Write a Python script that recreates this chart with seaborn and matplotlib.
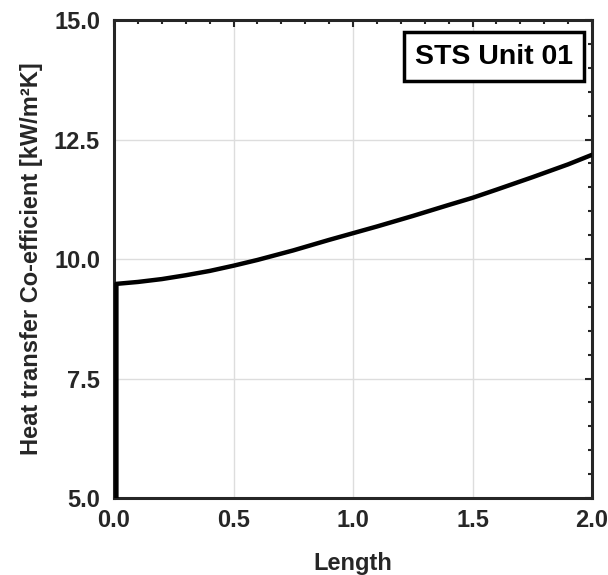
import numpy as np
import pandas as pd
import matplotlib
matplotlib.use("Agg")
import matplotlib.pyplot as plt
import seaborn as sns
from matplotlib.ticker import MultipleLocator

# values
length = [0.01, 0.01, 0.1, 0.2, 0.3, 0.4, 0.5, 0.6, 0.75, 0.9, 1.0,
          1.1, 1.25, 1.4, 1.5, 1.6, 1.75, 1.9, 2.0]
htc = [5.0, 9.48, 9.52, 9.58, 9.66, 9.75, 9.86, 9.98, 10.18, 10.40, 10.54,
       10.68, 10.90, 11.13, 11.28, 11.45, 11.71, 11.98, 12.18]

xticks = [0.0, 0.5, 1.0, 1.5, 2.0]
yticks = [5.0, 7.5, 10.0, 12.5, 15.0]

sns.set_style("white")
plt.rcParams['font.family'] = ['Liberation Sans', 'DejaVu Sans']

df = pd.DataFrame({"Length": length, "HTC": htc})

fig = plt.figure(figsize=(6.08, 5.75), dpi=100)
ax = fig.add_axes([0.1875, 0.1339, 0.7862, 0.8313])

sns.lineplot(data=df, x="Length", y="HTC", ax=ax, color="black",
             linewidth=3.2, sort=False, estimator=None, zorder=3)

ax.set_xlim(0, 2)
ax.set_ylim(5, 15)
ax.set_xticks(xticks)
ax.set_yticks(yticks)
ax.set_xticklabels([f"{v:.1f}" for v in xticks])
ax.set_yticklabels([f"{v:.1f}" for v in yticks])
ax.xaxis.set_minor_locator(MultipleLocator(0.1))
ax.yaxis.set_minor_locator(MultipleLocator(0.5))
ax.grid(True, which="major", color="#dddddd", linewidth=1.0, zorder=0)

ax.tick_params(which="both", direction="in", top=True, right=True,
               color="#262626", width=1.5)
ax.tick_params(which="major", length=5, labelsize=17, labelcolor="#262626")
ax.tick_params(axis="x", which="major", pad=8)
ax.tick_params(axis="y", which="major", pad=10)
ax.tick_params(which="minor", length=3)
for lbl in ax.get_xticklabels() + ax.get_yticklabels():
    lbl.set_fontweight("bold")

for sp in ax.spines.values():
    sp.set_linewidth(2.2)
    sp.set_color("#262626")

ax.set_xlabel("Length", fontsize=17, fontweight="bold", color="#262626",
              labelpad=14)
ax.set_ylabel("Heat transfer Co-efficient [kW/m²K]", fontsize=17,
              fontweight="bold", color="#262626", labelpad=8)

ax.text(0.96, 0.923, "STS Unit 01", transform=ax.transAxes, ha="right",
        va="center", fontsize=20.5, fontweight="bold", color="black", zorder=5,
        bbox=dict(boxstyle="square,pad=0.4", facecolor="white",
                  edgecolor="black", linewidth=2.5))

fig.savefig("out.png", dpi=100)
